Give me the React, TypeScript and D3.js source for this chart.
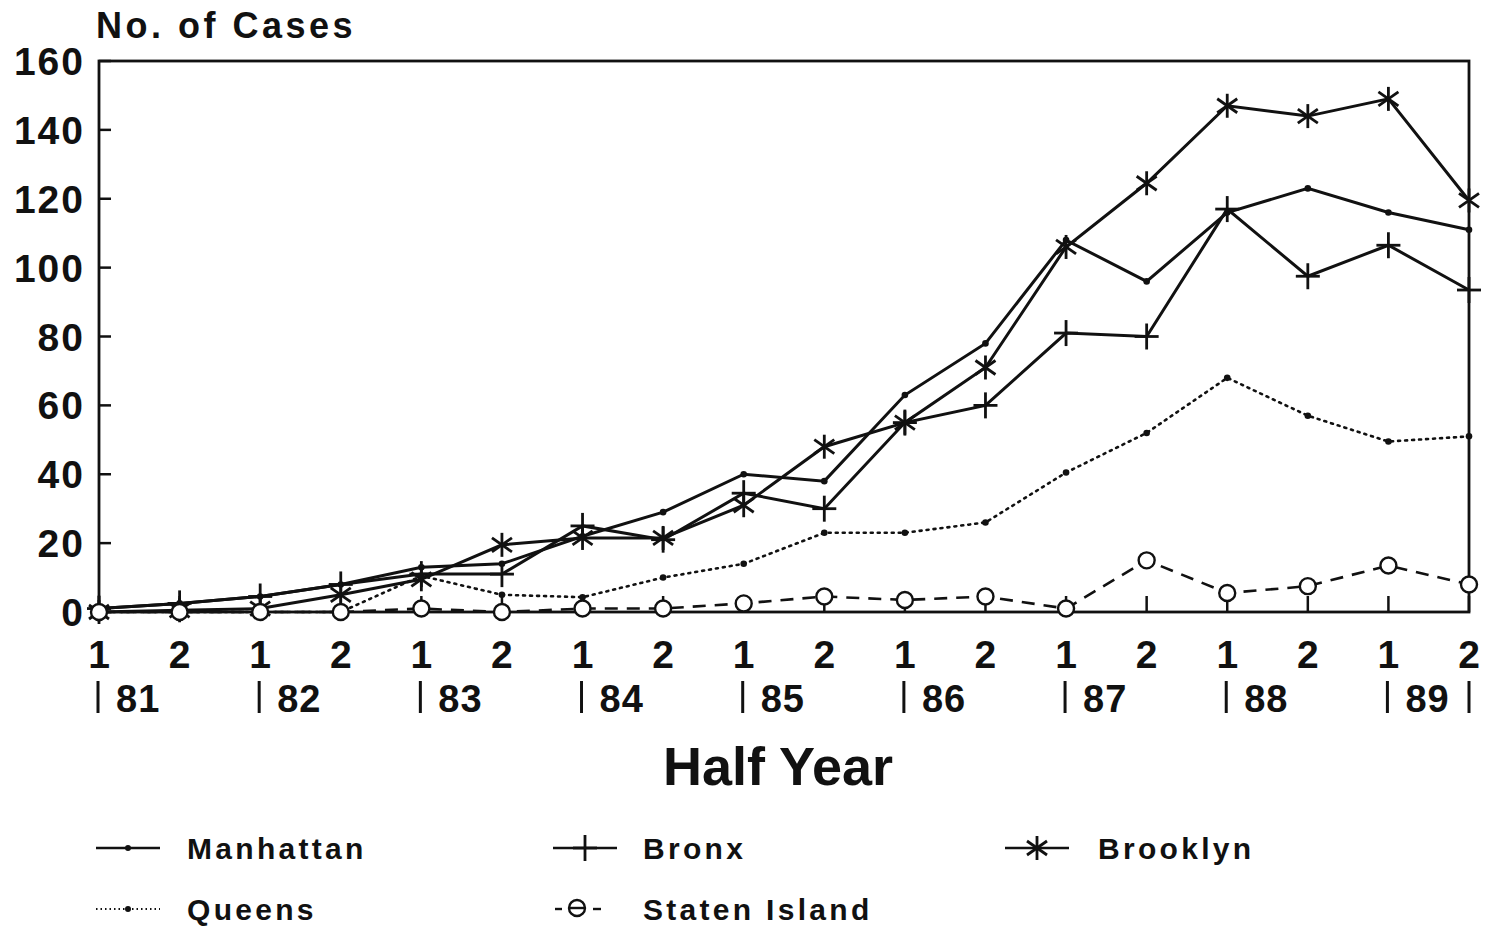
import React from "react";
import * as d3 from "d3";

const halfLabels = ["1","2","1","2","1","2","1","2","1","2","1","2","1","2","1","2","1","2"];
const yearLabels = ["81","82","83","84","85","86","87","88","89"];
const yTicks = [0, 20, 40, 60, 80, 100, 120, 140, 160];

const manhattan = [1, 2.5, 4.5, 8, 13, 14, 22, 29, 40, 38, 63, 78, 108, 96, 116, 123, 116, 111];
const bronx = [1, 2.5, 4.5, 8, 11, 11, 25, 21, 34.5, 30, 55, 60, 81, 80, 117, 97.5, 106.5, 93.5];
const brooklyn = [0, 0.5, 1, 5, 9.5, 19.5, 21.5, 21.5, 31, 48, 55, 71, 106, 124.5, 147, 144, 149, 119.5];
const queens = [0, 0, 0, 0, 10.5, 5, 4.3, 10, 14, 23, 23, 26, 40.5, 52, 68, 57, 49.5, 51];
const statenIsland = [0, 0, 0, 0, 1, 0, 1, 1, 2.5, 4.5, 3.5, 4.5, 1, 15, 5.5, 7.5, 13.5, 8];

const FONT = "'Liberation Sans', Arial, sans-serif";

type Marker = "dot" | "plus" | "star" | "circle";

const seriesList: { name: string; values: number[]; marker: Marker; dash: string }[] = [
  { name: "Manhattan", values: manhattan, marker: "dot", dash: "" },
  { name: "Bronx", values: bronx, marker: "plus", dash: "" },
  { name: "Brooklyn", values: brooklyn, marker: "star", dash: "" },
  { name: "Queens", values: queens, marker: "dot", dash: "2 5" },
  { name: "Staten Island", values: statenIsland, marker: "circle", dash: "13 9" },
];

function MarkerShape({ type, x, y }: { type: Marker; x: number; y: number }) {
  const s = "#111";
  if (type === "dot") return <circle cx={x} cy={y} r={3.3} fill={s} />;
  if (type === "plus")
    return (
      <g stroke={s} strokeWidth={2.8}>
        <line x1={x} x2={x} y1={y - 13} y2={y + 13} />
        <line x1={x - 12} x2={x + 12} y1={y} y2={y} />
      </g>
    );
  if (type === "star")
    return (
      <g stroke={s} strokeWidth={2.8}>
        <line x1={x} x2={x} y1={y - 12} y2={y + 12} />
        <line x1={x - 10} x2={x + 10} y1={y - 7} y2={y + 7} />
        <line x1={x - 10} x2={x + 10} y1={y + 7} y2={y - 7} />
      </g>
    );
  return <circle cx={x} cy={y} r={8} fill="white" stroke={s} strokeWidth={2.4} />;
}

export default function App() {
  const W = 1490, H = 927;
  const x = d3.scaleLinear().domain([0, 17]).range([99, 1469]);
  const y = d3.scaleLinear().domain([0, 160]).range([612, 61]);
  const line = d3
    .line<number>()
    .x((_, i) => x(i))
    .y((d) => y(d));

  const legend = [
    { s: seriesList[0], lx: 96, ly: 848, tx: 187 },
    { s: seriesList[1], lx: 553, ly: 848, tx: 643 },
    { s: seriesList[2], lx: 1005, ly: 848, tx: 1098 },
    { s: seriesList[3], lx: 96, ly: 909, tx: 187 },
    { s: seriesList[4], lx: 555, ly: 909, tx: 643 },
  ];

  return (
    <div style={{ position: "absolute", left: 0, top: 0 }}>
      <svg width={W} height={H} style={{ display: "block", background: "white" }} fontFamily={FONT}>
        <rect x={0} y={0} width={W} height={H} fill="white" />
        {/* title */}
        <text x={96} y={38} fontSize={36} fontWeight={700} letterSpacing={3.5} fill="#111">
          No. of Cases
        </text>
        {/* y ticks */}
        {yTicks.map((t) => (
          <g key={t}>
            <text x={85} y={y(t) + 14} fontSize={39} fontWeight={700} textAnchor="end" letterSpacing={2} fill="#111">
              {t}
            </text>
            <line x1={x(0)} x2={x(0) + 12} y1={y(t)} y2={y(t)} stroke="#111" strokeWidth={2.5} />
          </g>
        ))}
        {/* x ticks */}
        {halfLabels.map((l, i) => (
          <g key={i}>
            <line x1={x(i)} x2={x(i)} y1={y(0)} y2={y(0) - 16} stroke="#111" strokeWidth={2.5} />
            <text x={x(i)} y={668} fontSize={39} fontWeight={700} textAnchor="middle" fill="#111">
              {l}
            </text>
          </g>
        ))}
        {yearLabels.map((yr, k) => {
          const bx = x(k * 2) - 1;
          return (
            <g key={yr}>
              <line x1={bx} x2={bx} y1={681} y2={713} stroke="#111" strokeWidth={3} />
              <text x={bx + 18} y={712} fontSize={38} fontWeight={700} letterSpacing={1} fill="#111">
                {yr}
              </text>
            </g>
          );
        })}
        <line x1={x(17)} x2={x(17)} y1={681} y2={713} stroke="#111" strokeWidth={3} />
        <text x={778} y={785} fontSize={54} fontWeight={700} textAnchor="middle" fill="#111">
          Half Year
        </text>
        {/* frame */}
        <rect x={x(0)} y={y(160)} width={x(17) - x(0)} height={y(0) - y(160)} fill="none" stroke="#111" strokeWidth={2.8} />
        {/* series */}
        {seriesList.map((s) => (
          <g key={s.name}>
            <path
              d={line(s.values) || ""}
              fill="none"
              stroke="#111"
              strokeWidth={s.name === "Queens" ? 2.6 : s.dash ? 2.6 : 3}
              strokeDasharray={s.dash || undefined}
              strokeLinecap={s.name === "Queens" ? "round" : "butt"}
            />
            {s.values.map((v, i) => (
              <MarkerShape key={i} type={s.marker} x={x(i)} y={y(v)} />
            ))}
          </g>
        ))}
        {/* legend */}
        {legend.map(({ s, lx, ly, tx }) => (
          <g key={s.name}>
            {s.name === "Staten Island" ? (
              <g stroke="#111" strokeWidth={2.4}>
                <line x1={lx} x2={lx + 7} y1={ly} y2={ly} />
                <line x1={lx + 38} x2={lx + 46} y1={ly} y2={ly} />
                <circle cx={lx + 22} cy={ly - 1} r={8} fill="white" />
                <line x1={lx + 15} x2={lx + 29} y1={ly - 1} y2={ly - 1} />
              </g>
            ) : (
              <>
                <line
                  x1={lx}
                  x2={lx + 64}
                  y1={ly}
                  y2={ly}
                  stroke="#111"
                  strokeWidth={s.dash ? 2 : 2.5}
                  strokeDasharray={s.dash ? "1.5 3" : undefined}
                />
                {s.marker === "dot" ? (
                  <circle cx={lx + 32} cy={ly} r={3} fill="#111" />
                ) : (
                  <MarkerShape type={s.marker} x={lx + 32} y={ly} />
                )}
              </>
            )}
            <text x={tx} y={ly + 11} fontSize={30} fontWeight={700} letterSpacing={3.3} fill="#111">
              {s.name}
            </text>
          </g>
        ))}
      </svg>
    </div>
  );
}
